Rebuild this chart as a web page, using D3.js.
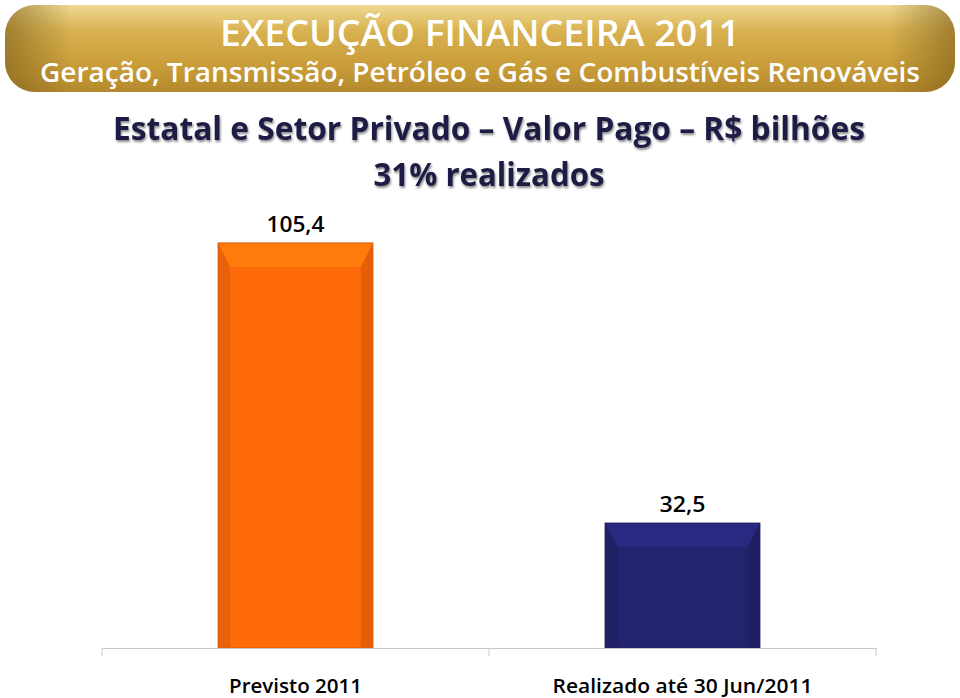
<!DOCTYPE html>
<html>
<head>
<meta charset="utf-8">
<script src="https://d3js.org/d3.v7.min.js"></script>
<style>
  body { margin: 0; background: #fff; }
  svg { display: block; }
</style>
</head>
<body>
<div id="chart"></div>
<script>
// Data
const categories = ['Previsto 2011', 'Realizado até 30 Jun/2011'];
const values = [105.4, 32.5];
const valueLabels = ['105,4', '32,5'];
const barColors = ['#ff6a0a', '#23236e'];

const width = 960, height = 698;
const font = '"Open Sans", sans-serif';

const svg = d3.select('#chart')
    .append('svg')
    .attr('width', width)
    .attr('height', height);

const defs = svg.append('defs');

// Gold banner gradient
const gold = defs.append('linearGradient')
    .attr('id', 'gold').attr('x1', 0).attr('y1', 0).attr('x2', 0).attr('y2', 1);
gold.append('stop').attr('offset', '0%').attr('stop-color', '#efd993');
gold.append('stop').attr('offset', '30%').attr('stop-color', '#d8b150');
gold.append('stop').attr('offset', '75%').attr('stop-color', '#c69a36');
gold.append('stop').attr('offset', '100%').attr('stop-color', '#b4892e');

const goldSide = defs.append('linearGradient')
    .attr('id', 'goldSide').attr('x1', 0).attr('y1', 0).attr('x2', 1).attr('y2', 0);
goldSide.append('stop').attr('offset', '0%').attr('stop-color', '#7d5e1a').attr('stop-opacity', 0.6);
goldSide.append('stop').attr('offset', '7%').attr('stop-color', '#7d5e1a').attr('stop-opacity', 0);
goldSide.append('stop').attr('offset', '93%').attr('stop-color', '#7d5e1a').attr('stop-opacity', 0);
goldSide.append('stop').attr('offset', '100%').attr('stop-color', '#7d5e1a').attr('stop-opacity', 0.6);

// Text shadow for the embossed heading
const emb = defs.append('filter').attr('id', 'emboss')
    .attr('x', '-5%').attr('y', '-20%').attr('width', '110%').attr('height', '140%');
emb.append('feDropShadow').attr('dx', 1).attr('dy', 2).attr('stdDeviation', 1)
    .attr('flood-color', '#000').attr('flood-opacity', 0.45);

// Banner
svg.append('rect')
    .attr('x', 5).attr('y', 5).attr('width', 950).attr('height', 87)
    .attr('rx', 30).attr('fill', 'url(#gold)');
svg.append('rect')
    .attr('x', 5).attr('y', 5).attr('width', 950).attr('height', 87)
    .attr('rx', 30).attr('fill', 'url(#goldSide)');

svg.append('text')
    .attr('x', 480).attr('y', 46)
    .attr('text-anchor', 'middle')
    .attr('font-family', font).attr('font-size', 36).attr('font-weight', 600)
    .attr('fill', '#fff')
    .attr('textLength', 520).attr('lengthAdjust', 'spacingAndGlyphs')
    .text('EXECUÇÃO FINANCEIRA 2011');

svg.append('text')
    .attr('x', 480).attr('y', 82)
    .attr('text-anchor', 'middle')
    .attr('font-family', font).attr('font-size', 27).attr('font-weight', 600)
    .attr('fill', '#fff')
    .attr('textLength', 880).attr('lengthAdjust', 'spacingAndGlyphs')
    .text('Geração, Transmissão, Petróleo e Gás e Combustíveis Renováveis');

// Subheading
svg.append('text')
    .attr('x', 489).attr('y', 140)
    .attr('text-anchor', 'middle')
    .attr('font-family', font).attr('font-size', 32).attr('font-weight', 'bold')
    .attr('fill', '#1f1f45').attr('filter', 'url(#emboss)')
    .attr('textLength', 752).attr('lengthAdjust', 'spacingAndGlyphs')
    .text('Estatal e Setor Privado – Valor Pago – R$ bilhões');

svg.append('text')
    .attr('x', 489).attr('y', 186)
    .attr('text-anchor', 'middle')
    .attr('font-family', font).attr('font-size', 32).attr('font-weight', 'bold')
    .attr('fill', '#1f1f45').attr('filter', 'url(#emboss)')
    .attr('textLength', 231).attr('lengthAdjust', 'spacingAndGlyphs')
    .text('31% realizados');

// Scales
const x = d3.scaleBand()
    .domain(categories)
    .range([102, 876])
    .paddingInner(0.6)
    .paddingOuter(0.3);

const y = d3.scaleLinear()
    .domain([0, 120])
    .range([648, 648 - 120 * 3.843]);

const g = svg.append('g');

// Bars with a bevel look
categories.forEach((c, i) => {
    const bx = x(c), bw = x.bandwidth();
    const by = y(values[i]), bh = y(0) - y(values[i]);
    const col = d3.color(barColors[i]);
    const b = 12;

    const grp = g.append('g');
    grp.append('rect')
        .attr('x', bx).attr('y', by).attr('width', bw).attr('height', bh)
        .attr('fill', col);
    // top bevel
    grp.append('path')
        .attr('d', `M${bx},${by} L${bx + bw},${by} L${bx + bw - b},${by + b * 2} L${bx + b},${by + b * 2} Z`)
        .attr('fill', col.brighter(0.45));
    // left bevel
    grp.append('path')
        .attr('d', `M${bx},${by} L${bx + b},${by + b * 2} L${bx + b},${by + bh} L${bx},${by + bh} Z`)
        .attr('fill', col.darker(0.25));
    // right bevel
    grp.append('path')
        .attr('d', `M${bx + bw},${by} L${bx + bw - b},${by + b * 2} L${bx + bw - b},${by + bh} L${bx + bw},${by + bh} Z`)
        .attr('fill', col.darker(0.3));
    grp.append('rect')
        .attr('x', bx).attr('y', by).attr('width', bw).attr('height', bh)
        .attr('fill', 'none').attr('stroke', col.darker(0.4)).attr('stroke-width', 1);

    g.append('text')
        .attr('x', bx + bw / 2).attr('y', by - 11)
        .attr('text-anchor', 'middle')
        .attr('font-family', font).attr('font-size', 21).attr('font-weight', 600)
        .attr('fill', '#000')
        .attr('textLength', [58, 46][i]).attr('lengthAdjust', 'spacingAndGlyphs')
        .text(valueLabels[i]);
});

// Category axis
const axis = d3.axisBottom(x).tickSize(0).tickPadding(0);
const ax = svg.append('g')
    .attr('transform', `translate(0,${y(0)})`)
    .call(axis);
ax.select('.domain').attr('stroke', '#c8c8c8');
ax.selectAll('.tick text')
    .attr('y', 45).attr('dy', 0)
    .attr('font-family', font).attr('font-size', 20).attr('font-weight', 600)
    .attr('fill', '#000');
ax.selectAll('.tick text')
    .attr('textLength', (d, i) => [133, 260][i])
    .attr('lengthAdjust', 'spacingAndGlyphs');

// Separators between categories
const bounds = [102, 102 + x.step(), 876];
svg.selectAll('.sep')
    .data(bounds)
    .enter().append('line')
    .attr('class', 'sep')
    .attr('x1', d => d).attr('x2', d => d)
    .attr('y1', y(0)).attr('y2', y(0) + 8)
    .attr('stroke', '#c8c8c8');
</script>
</body>
</html>
